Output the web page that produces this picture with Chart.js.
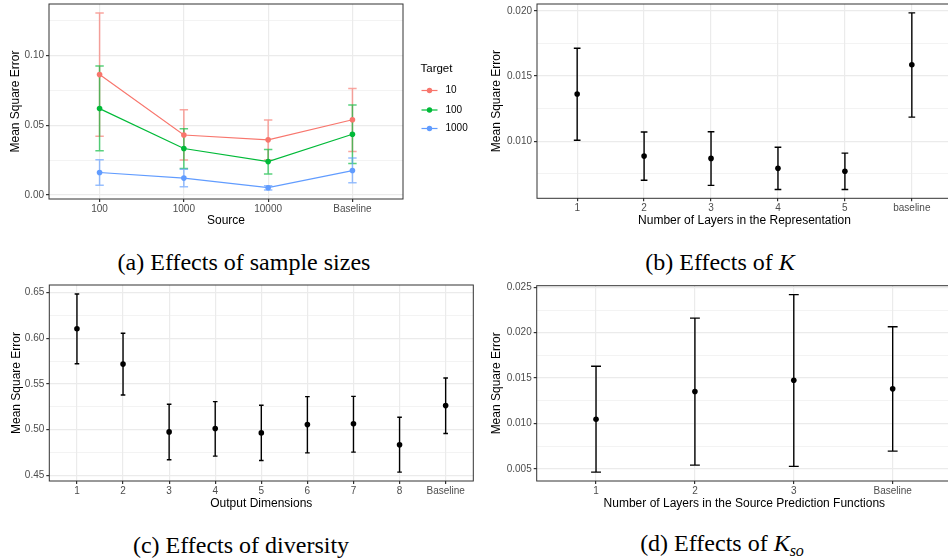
<!DOCTYPE html>
<html>
<head>
<meta charset="utf-8">
<script src="https://cdn.jsdelivr.net/npm/chart.js@4.4.0/dist/chart.umd.min.js"></script>
<style>
  html, body { margin: 0; padding: 0; background: #fff; width: 948px; height: 558px; overflow: hidden; position: relative; }
  canvas { position: absolute; }
  .cap { position: absolute; font-family: "Liberation Serif", "Times New Roman", serif; font-size: 24px; color: #000;
         white-space: nowrap; transform: translate(-50%, -50%); line-height: 1; }
  .cap sub { font-size: 16px; vertical-align: -5px; }
</style>
</head>
<body>
<canvas id="chartA" width="480" height="232" style="left:0;top:0"></canvas>
<canvas id="chartB" width="476" height="232" style="left:480px;top:0"></canvas>
<canvas id="chartC" width="480" height="235" style="left:0;top:280px"></canvas>
<canvas id="chartD" width="476" height="235" style="left:480px;top:280px"></canvas>
<div class="cap" style="left:244px;top:262px">(a) Effects of sample sizes</div>
<div class="cap" style="left:720px;top:262px">(b) Effects of <i>K</i></div>
<div class="cap" style="left:241px;top:545px">(c) Effects of diversity</div>
<div class="cap" style="left:722px;top:545px">(d) Effects of <i>K<sub>so</sub></i></div>
<script>
// (a) sample sizes
const aLabels = ['100', '1000', '10000', 'Baseline'];
const aTargets = ['10', '100', '1000'];
const aMean10 = [0.0863, 0.0430, 0.0395, 0.0539];
const aLow10 = [0.0420, 0.0250, 0.0250, 0.0312];
const aHigh10 = [0.1305, 0.0610, 0.0537, 0.0764];
const aMean100 = [0.0619, 0.0333, 0.0239, 0.0435];
const aLow100 = [0.0317, 0.0189, 0.0151, 0.0225];
const aHigh100 = [0.0924, 0.0475, 0.0326, 0.0645];
const aMean1000 = [0.0161, 0.0121, 0.0052, 0.0175];
const aLow1000 = [0.0069, 0.0059, 0.0035, 0.0087];
const aHigh1000 = [0.0253, 0.0184, 0.0066, 0.0265];
const aYTicks = [0.00, 0.05, 0.10];

// (b) K
const bLabels = ['1', '2', '3', '4', '5', 'baseline'];
const bMean = [0.01362, 0.00886, 0.00868, 0.00792, 0.00770, 0.01587];
const bLow = [0.01008, 0.00701, 0.00661, 0.00630, 0.00630, 0.01185];
const bHigh = [0.01714, 0.01071, 0.01073, 0.00954, 0.00909, 0.01985];
const bYTicks = [0.010, 0.015, 0.020];

// (c) diversity
const cLabels = ['1', '2', '3', '4', '5', '6', '7', '8', 'Baseline'];
const cMean = [0.6104, 0.5718, 0.4976, 0.5013, 0.4965, 0.5056, 0.5064, 0.4835, 0.5264];
const cLow = [0.5722, 0.5380, 0.4671, 0.4711, 0.4664, 0.4747, 0.4755, 0.4536, 0.4958];
const cHigh = [0.6485, 0.6056, 0.5278, 0.5307, 0.5267, 0.5362, 0.5365, 0.5136, 0.5565];
const cYTicks = [0.45, 0.50, 0.55, 0.60, 0.65];

// (d) K_so
const dLabels = ['1', '2', '3', 'Baseline'];
const dMean = [0.01045, 0.01352, 0.01476, 0.01381];
const dLow = [0.00463, 0.00540, 0.00526, 0.00694];
const dHigh = [0.01630, 0.02160, 0.02420, 0.02065];
const dYTicks = [0.005, 0.010, 0.015, 0.020, 0.025];

const sans = '"Liberation Sans", Arial, sans-serif';
const gridCol = '#EBEBEB';
const frameCol = '#333333';

function withMinor(major, min, max) {
  const step = major[1] - major[0];
  const out = major.map(v => ({ value: v, minor: false }));
  for (let k = -1; k < major.length + 1; k++) {
    const v = major[0] + step * (k + 0.5);
    if (v > min && v < max) out.push({ value: v, minor: true });
  }
  return out.sort((p, q) => p.value - q.value);
}

function pts(vals) {
  return vals.map((v, i) => ({ x: i + 1, y: v }));
}

// error bars drawn from the low/high arrays through the chart scales
const errorBars = {
  id: 'errorBars',
  beforeDatasetsDraw(chart) {
    const { ctx, chartArea, scales: { x, y } } = chart;
    ctx.save();
    ctx.beginPath();
    ctx.rect(chartArea.left, chartArea.top, chartArea.width, chartArea.height);
    ctx.clip();
    chart.data.datasets.forEach(ds => {
      if (!ds.errLow) return;
      ctx.strokeStyle = ds.errColor;
      ctx.lineWidth = ds.errWidth;
      ds.data.forEach((p, i) => {
        const px = x.getPixelForValue(p.x);
        const hw = x.getPixelForValue(p.x + 0.05) - px;
        const lo = y.getPixelForValue(ds.errLow[i]);
        const hi = y.getPixelForValue(ds.errHigh[i]);
        ctx.beginPath();
        ctx.moveTo(px, lo); ctx.lineTo(px, hi);
        ctx.moveTo(px - hw, lo); ctx.lineTo(px + hw, lo);
        ctx.moveTo(px - hw, hi); ctx.lineTo(px + hw, hi);
        ctx.stroke();
      });
    });
    ctx.restore();
  }
};

const panelBorder = {
  id: 'panelBorder',
  afterDraw(chart) {
    const { ctx, chartArea: a } = chart;
    ctx.save();
    ctx.strokeStyle = frameCol;
    ctx.lineWidth = 1;
    ctx.strokeRect(a.left, a.top, a.right - a.left, a.bottom - a.top);
    ctx.restore();
  }
};

// ggplot style legend for panel (a)
const targetLegend = {
  id: 'targetLegend',
  afterDraw(chart) {
    const ctx = chart.ctx;
    ctx.save();
    ctx.fillStyle = '#000';
    ctx.textBaseline = 'middle';
    ctx.font = '11.5px ' + sans;
    ctx.fillText('Target', 420.5, 69);
    const ys = [90.5, 110, 128.5];
    chart.data.datasets.forEach((ds, i) => {
      ctx.strokeStyle = ds.borderColor;
      ctx.lineWidth = 1.2;
      ctx.beginPath();
      ctx.moveTo(421.5, ys[i]); ctx.lineTo(437.5, ys[i]);
      ctx.stroke();
      ctx.fillStyle = ds.borderColor;
      ctx.beginPath();
      ctx.arc(429.5, ys[i], 2.7, 0, Math.PI * 2);
      ctx.fill();
      ctx.fillStyle = '#000';
      ctx.font = '10px ' + sans;
      ctx.fillText(ds.label, 445.5, ys[i]);
    });
    ctx.restore();
  }
};

function makeChart(id, p) {
  const yAll = withMinor(p.yTicks, p.yMin, p.yMax);
  return new Chart(document.getElementById(id), {
    type: 'line',
    data: { datasets: p.datasets },
    options: {
      responsive: false,
      animation: false,
      devicePixelRatio: 1,
      layout: { padding: p.pad },
      plugins: { legend: { display: false }, tooltip: { enabled: false } },
      scales: {
        x: {
          type: 'linear',
          min: 0.4,
          max: p.xMax,
          afterBuildTicks: s => { s.ticks = p.labels.map((l, i) => ({ value: i + 1 })); },
          afterFit: s => { s.height = p.xHeight; s.paddingLeft = 0; s.paddingRight = 0; },
          border: { display: false },
          grid: { color: gridCol, lineWidth: 1.2, tickLength: 3, tickColor: frameCol },
          ticks: {
            autoSkip: false, maxRotation: 0, padding: 1,
            color: '#4D4D4D', font: { family: sans, size: 10 },
            callback: (v, i) => p.labels[i]
          },
          title: { display: true, text: p.xTitle, color: '#000', font: { family: sans, size: 12 }, padding: { top: 2, bottom: 4 } }
        },
        y: {
          min: p.yMin,
          max: p.yMax,
          afterBuildTicks: s => { s.ticks = yAll.map(t => ({ value: t.value, minor: t.minor })); },
          afterFit: s => { s.width = p.yWidth; s.paddingTop = 0; s.paddingBottom = 0; },
          border: { display: false },
          grid: {
            color: gridCol,
            lineWidth: c => (c.tick && c.tick.minor) ? 0.6 : 1.2,
            tickLength: 3,
            tickColor: c => (c.tick && c.tick.minor) ? 'rgba(0,0,0,0)' : frameCol
          },
          ticks: {
            padding: 2, color: '#4D4D4D', font: { family: sans, size: 10 },
            callback: (v, i, ticks) => ticks[i].minor ? '' : v.toFixed(p.digits)
          },
          title: { display: true, text: 'Mean Square Error', color: '#000', font: { family: sans, size: 12 }, padding: { top: 4, bottom: 2 } }
        }
      }
    },
    plugins: [errorBars, panelBorder].concat(p.extra || [])
  });
}

function targetSet(label, color, errColor, mean, low, high) {
  return {
    label: label, data: pts(mean), errLow: low, errHigh: high,
    errColor: errColor, errWidth: 1.5,
    borderColor: color, backgroundColor: color, borderWidth: 1.2,
    pointRadius: 2.8, pointBorderWidth: 0, tension: 0
  };
}

function blackSet(mean, low, high) {
  return {
    label: 'MSE', data: pts(mean), errLow: low, errHigh: high,
    errColor: '#000', errWidth: 1.4, showLine: false,
    borderColor: '#000', backgroundColor: '#000',
    pointRadius: 2.8, pointBorderWidth: 0
  };
}

makeChart('chartA', {
  labels: aLabels, xMax: 4.6, xTitle: 'Source',
  yMin: -0.0029, yMax: 0.1369, yTicks: aYTicks, digits: 2,
  pad: { left: 4, top: 2, right: 77, bottom: 0 }, yWidth: 45, xHeight: 33,
  datasets: [
    targetSet(aTargets[0], '#F8766D', 'rgba(248,118,109,0.65)', aMean10, aLow10, aHigh10),
    targetSet(aTargets[1], '#00BA38', 'rgba(0,186,56,0.65)', aMean100, aLow100, aHigh100),
    targetSet(aTargets[2], '#619CFF', 'rgba(97,156,255,0.65)', aMean1000, aLow1000, aHigh1000)
  ],
  extra: [targetLegend]
});

makeChart('chartB', {
  labels: bLabels, xMax: 6.6, xTitle: 'Number of Layers in the Representation',
  yMin: 0.00562, yMax: 0.02053, yTicks: bYTicks, digits: 3,
  pad: { left: 5.5, top: 2.7, right: 0, bottom: 0 }, yWidth: 51.5, xHeight: 33.7,
  datasets: [blackSet(bMean, bLow, bHigh)]
});

makeChart('chartC', {
  labels: cLabels, xMax: 9.6, xTitle: 'Output Dimensions',
  yMin: 0.4439, yMax: 0.6583, yTicks: cYTicks, digits: 2,
  pad: { left: 5, top: 5, right: 6.7, bottom: 0 }, yWidth: 44.3, xHeight: 34,
  datasets: [blackSet(cMean, cLow, cHigh)]
});

makeChart('chartD', {
  labels: dLabels, xMax: 4.6, xTitle: 'Number of Layers in the Source Prediction Functions',
  yMin: 0.00365, yMax: 0.02518, yTicks: dYTicks, digits: 3,
  pad: { left: 5.5, top: 5.7, right: 0, bottom: 0 }, yWidth: 51.2, xHeight: 34,
  datasets: [blackSet(dMean, dLow, dHigh)]
});
</script>
</body>
</html>
